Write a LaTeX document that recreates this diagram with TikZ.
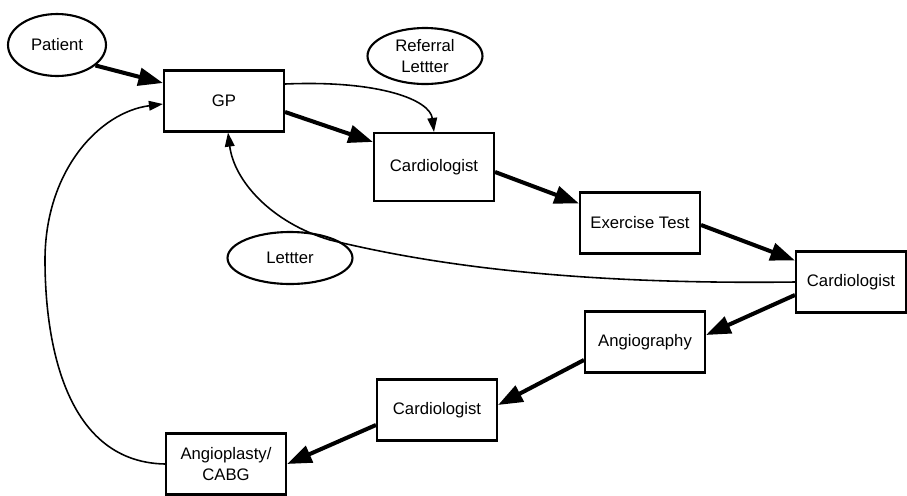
\documentclass[tikz,border=0pt]{standalone}
\usepackage{fontspec}
\setmainfont{Liberation Sans}
\usetikzlibrary{shapes,arrows.meta,positioning,calc}

\begin{document}
\begin{tikzpicture}[x=0.02cm,y=-0.02cm,
        box/.style={draw,line width=1.2pt,minimum width=2.4cm,minimum height=1.22cm,inner sep=0pt,align=center,font=\fontsize{9.5}{11.5}\selectfont},
        oval/.style={draw,ellipse,line width=1.2pt,inner sep=0pt,align=center,font=\fontsize{9.5}{11.5}\selectfont},
        flow/.style={line width=2.3pt,-{Triangle[length=14pt,width=10pt]}},
        back/.style={line width=0.9pt,-{Triangle[length=8pt,width=5.5pt]}}]
        \useasboundingbox (0,0) rectangle (907,495);

        % Ovals
        \node[oval,minimum width=1.96cm,minimum height=1.24cm] (patient) at (57,45) {Patient};
        \node[oval,minimum width=2.3cm,minimum height=1.12cm] (referral) at (425,56) {Referral\\Lettter};
        \node[oval,minimum width=2.5cm,minimum height=1.04cm] (letter) at (290,258) {Lettter};

        % Boxes
        \node[box] (gp) at (224,101) {GP};
        \node[box,minimum height=1.36cm] (card1) at (434,167) {Cardiologist};
        \node[box] (exercise) at (640,223) {Exercise Test};
        \node[box,minimum width=2.2cm] (card2) at (851,282) {Cardiologist};
        \node[box] (angio) at (645,342) {Angiography};
        \node[box] (card3) at (437,410) {Cardiologist};
        \node[box] (cabg) at (226,464) {Angioplasty/\\CABG};

        % Main path (thick arrows)
        \draw[flow] (patient.-28) -- ($(gp.west)+(0,-18)$);
        \draw[flow] ($(gp.east)+(0,11)$) -- ($(card1.north west)+(0,10)$);
        \draw[flow] ($(card1.east)+(0,5)$) -- ($(exercise.north west)+(0,12)$);
        \draw[flow] ($(exercise.east)+(0,2)$) -- ($(card2.north west)+(0,10)$);
        \draw[flow] ($(card2.west)+(0,13)$) -- ($(angio.east)+(0,-7)$);
        \draw[flow] ($(angio.west)+(0,18)$) -- ($(card3.east)+(0,-5)$);
        \draw[flow] ($(card3.west)+(0,15)$) -- (cabg.east);

        % Letters back to GP (thin arrows)
        \draw[back] ($(gp.east)+(0,-17)$) .. controls (380,80) and (430,100) .. (card1.north);
        \draw[back] (card2.west) .. controls (560,285) and (420,262) .. (330,240)
            .. controls (270,222) and (234,180) .. ($(gp.south)+(4,0)$);
        \draw[back] (cabg.west) .. controls (60,462) and (45,330) .. (45,260)
            .. controls (45,170) and (100,112) .. ($(gp.west)+(0,3)$);
    \end{tikzpicture}
\end{document}
